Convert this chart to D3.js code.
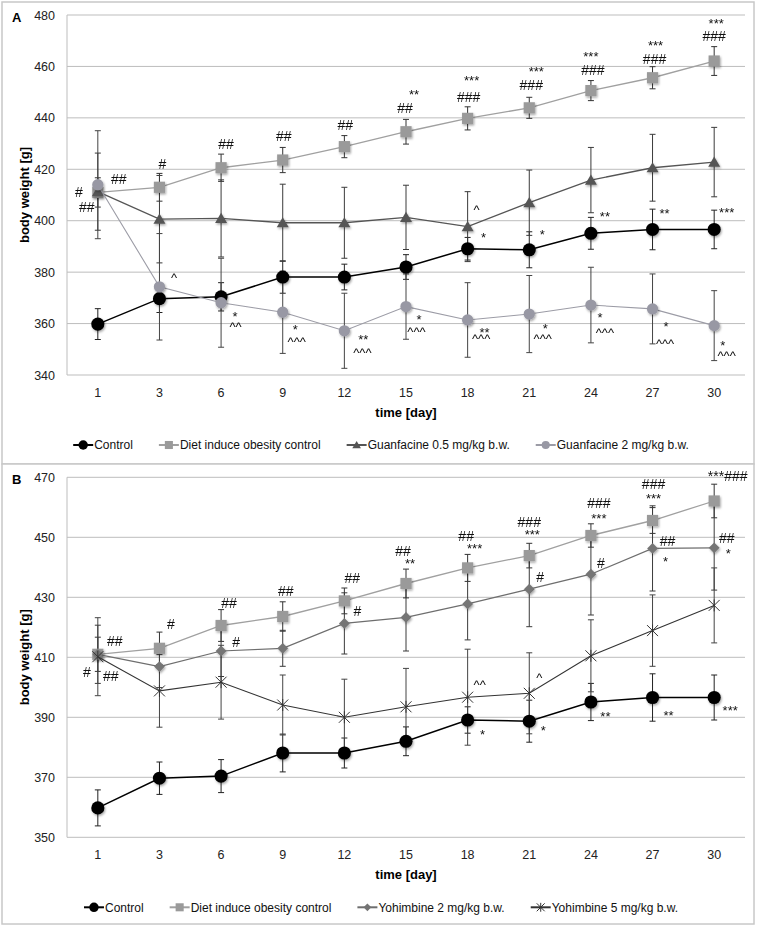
<!DOCTYPE html>
<html>
<head>
<meta charset="utf-8">
<script src="https://cdn.jsdelivr.net/npm/d3@7"></script>
<style>
  body { margin: 0; background: #fff; }
  svg { display: block; }
  text { font-family: "Liberation Sans", Arial, Helvetica, sans-serif; }
</style>
</head>
<body>
<div id="chart"></div>
<script>
// ---- data ----
var days = [1, 3, 6, 9, 12, 15, 18, 21, 24, 27, 30]

var control    = [359.8, 369.7, 370.4, 378.1, 378.1, 382.0, 389.1, 388.7, 395.1, 396.6, 396.6]
var controlErr = [6.0, 5.4, 5.5, 6.3, 5.0, 4.8, 4.4, 7.0, 6.2, 7.9, 7.5]

var dio    = [411.0, 413.0, 420.6, 423.6, 428.8, 434.6, 439.8, 443.9, 450.6, 455.6, 462.1]
var dioErr = [5.7, 5.4, 5.3, 4.9, 4.3, 4.8, 4.5, 4.1, 3.9, 4.3, 5.6]

var guan05    = [411.3, 400.6, 400.9, 399.2, 399.2, 401.3, 397.7, 407.0, 415.8, 420.6, 422.8]
var guan05Err = [15.0, 17.0, 15.0, 15.0, 13.8, 12.5, 13.6, 12.7, 12.7, 13.0, 13.5]

var guan2    = [414.0, 374.3, 368.1, 364.4, 357.2, 366.6, 361.4, 363.7, 367.2, 365.7, 359.2]
var guan2Err = [21.0, 20.7, 17.3, 16.0, 14.6, 12.7, 14.5, 15.0, 14.7, 13.6, 13.6]

var yoh2    = [411.0, 406.9, 412.1, 413.0, 421.3, 423.3, 427.8, 432.7, 437.7, 446.3, 446.5]
var yoh2Err = [9.7, 7.0, 8.5, 6.0, 10.2, 11.2, 12.0, 12.5, 13.6, 14.2, 14.1]

var yoh5    = [410.2, 398.8, 401.7, 394.1, 390.0, 393.5, 396.7, 398.0, 410.5, 418.9, 427.3]
var yoh5Err = [13.0, 12.1, 12.3, 10.0, 12.7, 12.8, 16.0, 13.5, 12.0, 11.9, 12.5]

var ticksA = [340, 360, 380, 400, 420, 440, 460, 480]
var ticksB = [350, 370, 390, 410, 430, 450, 470]

// significance labels: [day, value, text, dx]
var labelsA = [
  [1, 411.3, "#", -19], [1, 416.2, "##", 21], [1, 405.3, "##", -11],
  [3, 422, "#", 3], [6, 429.8, "##", 5], [9, 433.1, "##", 1], [12, 437.2, "##", 1],
  [15, 443.7, "##", -1], [15, 450.2, "**", 8],
  [18, 448.2, "###", 1], [18, 455.8, "***", 4],
  [21, 452.8, "###", 2], [21, 459, "***", 7],
  [24, 458.6, "###", 2], [24, 465.1, "***", 0],
  [27, 462.8, "###", 2], [27, 469.2, "***", 3],
  [30, 471.8, "###", 0], [30, 477.8, "***", 2],
  [3, 378.9, "^", 14.5],
  [6, 364, "*", 14], [6, 359.8, "^^", 14.5],
  [9, 359, "*", 12.5], [9, 354, "^^^", 14],
  [12, 354.9, "**", 19], [12, 349.7, "^^^", 18],
  [15, 362.7, "*", 13], [15, 357.9, "^^^", 10.5],
  [18, 357.7, "**", 17], [18, 355.2, "^^^", 13.5],
  [21, 359.4, "*", 16], [21, 355.2, "^^^", 13.5],
  [24, 363.3, "*", 9], [24, 357.2, "^^^", 14],
  [27, 360.1, "*", 13.5], [27, 353, "^^^", 12.5],
  [30, 352.7, "*", 8.5], [30, 348.4, "^^^", 12.5],
  [18, 405.2, "^", 9], [18, 394.7, "*", 16], [21, 395.7, "*", 13],
  [24, 402.8, "**", 14], [27, 404.1, "**", 12], [30, 404.5, "***", 12.5]
]

var labelsB = [
  [1, 415.4, "##", 17], [1, 405.2, "#", -11], [1, 403.9, "##", 13],
  [3, 421.1, "#", 11.5], [6, 428, "##", 8], [6, 415.2, "#", 15],
  [9, 432.1, "##", 3], [12, 436.3, "##", 8], [12, 425.4, "#", 13],
  [15, 445.5, "##", -3], [15, 442.1, "**", 4],
  [18, 450.4, "##", -1.5], [18, 447.1, "***", 7],
  [21, 455.2, "###", 0], [21, 451.9, "***", 3], [21, 436.7, "#", 11],
  [24, 461.3, "###", 8], [24, 457.2, "***", 8], [24, 441.5, "#", 10],
  [27, 467.8, "###", 1], [27, 463.8, "***", 1], [27, 448.8, "##", 15], [27, 442.8, "*", 13],
  [30, 470.4, "***###", 13.5], [30, 449.9, "##", 12.5], [30, 445.5, "*", 14],
  [18, 401.7, "^^", 12], [18, 385.4, "*", 15],
  [21, 404.1, "^", 10], [21, 386.5, "*", 14],
  [24, 391.1, "**", 14.5], [27, 391.5, "**", 16], [30, 393.2, "***", 16]
]

var width = 760, height = 926

var svg = d3.select("#chart").append("svg")
    .attr("width", width)
    .attr("height", height)

// soft marker shadow like the spreadsheet export
svg.append("defs").append("filter")
    .attr("id", "shadow")
    .attr("x", "-50%").attr("y", "-50%").attr("width", "200%").attr("height", "200%")
    .append("feDropShadow")
    .attr("dx", 1).attr("dy", 1.5).attr("stdDeviation", 1.1)
    .attr("flood-color", "#000").attr("flood-opacity", 0.35)

function markerPath(type, k) {
    k = k || 1
    if (type == "circle") return d3.symbol(d3.symbolCircle, 135 * k * k)()
    if (type == "dot") return d3.symbol(d3.symbolCircle, 100 * k * k)()
    if (type == "square") { var s = 5.6 * k; return "M" + -s + "," + -s + "H" + s + "V" + s + "H" + -s + "Z" }
    if (type == "triangle") return "M0," + (-5.6 * k) + "L" + (6 * k) + "," + (4.6 * k) + "L" + (-6 * k) + "," + (4.6 * k) + "Z"
    if (type == "diamond") { var d = 5.4 * k; return "M0," + -d + "L" + d + ",0L0," + d + "L" + -d + ",0Z" }
    if (type == "star") {
        var a = 5.5 * k
        return "M" + -a + "," + -a + "L" + a + "," + a + "M" + a + "," + -a + "L" + -a + "," + a + "M0," + (-a - 0.5) + "L0," + (a + 0.5)
    }
}

function drawMarker(g, type, color, k) {
    var p = g.append("path").attr("d", markerPath(type, k))
    if (type == "star") p.attr("fill", "none").attr("stroke", color).attr("stroke-width", 1)
    else p.attr("fill", color)
    return p
}

function labelShift(t) {
    // baseline offset so the visible glyph centre lands on the value
    if (t.indexOf("#") >= 0) return 4.9
    if (t.indexOf("*") >= 0) return 7.4
    return 6.7
}

function drawPanel(cfg) {
    var g = svg.append("g")

    // panel frame
    g.append("rect")
        .attr("x", 2).attr("y", cfg.boxTop)
        .attr("width", 752).attr("height", cfg.boxBottom - cfg.boxTop)
        .attr("fill", "#fff").attr("stroke", "#c8c8c8").attr("stroke-width", 1.5)

    var x = d3.scaleBand().domain(days).range([67, 745])
    var y = d3.scaleLinear().domain(cfg.domain).range([cfg.bottom, cfg.top])
    var cx = function(d) { return x(d) + x.bandwidth() / 2 }

    // gridlines
    g.selectAll(".grid").data(cfg.ticks).enter().append("line")
        .attr("x1", 67).attr("x2", 745)
        .attr("y1", function(d) { return y(d) }).attr("y2", function(d) { return y(d) })
        .attr("stroke", "#bdbdbd").attr("stroke-width", 1)
    g.append("line")
        .attr("x1", 67).attr("x2", 67).attr("y1", cfg.top).attr("y2", cfg.bottom)
        .attr("stroke", "#bdbdbd").attr("stroke-width", 1)

    // y tick labels
    g.selectAll(".ytick").data(cfg.ticks).enter().append("text")
        .attr("x", 55).attr("y", function(d) { return y(d) })
        .attr("dy", "0.36em")
        .attr("text-anchor", "end")
        .style("font-size", "12.5px").style("fill", "#222")
        .text(function(d) { return d })

    // x tick labels
    g.selectAll(".xtick").data(days).enter().append("text")
        .attr("x", cx).attr("y", cfg.bottom + 22)
        .attr("text-anchor", "middle")
        .style("font-size", "12.5px").style("fill", "#222")
        .text(function(d) { return d })

    g.append("text")
        .attr("x", 406).attr("y", cfg.bottom + 41.5)
        .attr("text-anchor", "middle")
        .style("font-size", "13px").style("font-weight", "bold")
        .text("time [day]")

    g.append("text")
        .attr("transform", "translate(29," + ((cfg.top + cfg.bottom) / 2) + ") rotate(-90)")
        .attr("text-anchor", "middle")
        .style("font-size", "13px").style("font-weight", "bold")
        .text("body weight [g]")

    g.append("text")
        .attr("x", 12).attr("y", cfg.top + 7)
        .style("font-size", "13px").style("font-weight", "bold")
        .text(cfg.letter)

    // error bars
    cfg.series.forEach(function(s) {
        var eb = g.append("g")
        s.values.forEach(function(v, i) {
            var px = cx(days[i]), e = s.err[i]
            eb.append("line").attr("x1", px).attr("x2", px)
                .attr("y1", y(v + e)).attr("y2", y(v - e))
            ;[v + e, v - e].forEach(function(t) {
                eb.append("line").attr("x1", px - 3).attr("x2", px + 3)
                    .attr("y1", y(t)).attr("y2", y(t))
            })
        })
        eb.attr("stroke", s.errColor).attr("stroke-width", 1)
    })

    // lines + markers
    var line = d3.line().x(function(d, i) { return cx(days[i]) }).y(function(d) { return y(d) })
    cfg.series.forEach(function(s) {
        g.append("path").datum(s.values)
            .attr("d", line)
            .attr("fill", "none").attr("stroke", s.lineColor).attr("stroke-width", s.lineWidth)
        var mg = g.append("g").attr("filter", s.marker == "star" ? null : "url(#shadow)")
        s.values.forEach(function(v, i) {
            drawMarker(mg, s.marker, s.color, 1)
                .attr("transform", "translate(" + cx(days[i]) + "," + y(v) + ")")
        })
    })

    // significance labels; labels of the same day that sit close together
    // go into one text element as stacked tspans
    var placed = []
    cfg.labels.forEach(function(l) {
        var lx = cx(l[0]) + l[3]
        var lyy = y(l[1]) + labelShift(l[2])
        var size = l[2].indexOf("#") >= 0 ? 14 : 13
        var host = null
        placed.forEach(function(p) {
            if (p.day == l[0] && Math.abs(p.y - lyy) < 14) host = p
        })
        if (!host) {
            host = { day: l[0], y: lyy, el: g.append("text").attr("text-anchor", "middle").style("fill", "#111") }
            placed.push(host)
        }
        host.el.append("tspan")
            .attr("x", lx).attr("y", lyy)
            .style("font-size", size + "px")
            .text(l[2])
    })

    // legend
    var ly = cfg.bottom + 70
    var lg = g.append("g")
    var xpos = 0
    cfg.series.forEach(function(s) {
        var item = lg.append("g").attr("transform", "translate(" + xpos + ",0)")
        item.append("line").attr("x1", 0).attr("x2", 20).attr("y1", ly).attr("y2", ly)
            .attr("stroke", s.lineColor).attr("stroke-width", 2)
        drawMarker(item, s.marker, s.color, 0.72).attr("transform", "translate(10," + ly + ")")
        var t = item.append("text").attr("x", 21).attr("y", ly).attr("dy", "0.36em")
            .style("font-size", "12px").style("fill", "#111")
            .text(s.name)
        xpos += 21 + t.node().getComputedTextLength() + 26
    })
    var total = xpos - 26
    lg.attr("transform", "translate(" + (381 - total / 2) + ",0)")
}

drawPanel({
    letter: "A",
    boxTop: 2, boxBottom: 464,
    top: 15, bottom: 375,
    domain: [340, 480], ticks: ticksA,
    labels: labelsA,
    series: [
        { name: "Control", values: control, err: controlErr, marker: "circle", color: "#000", lineColor: "#000", lineWidth: 1.5, errColor: "#222" },
        { name: "Diet induce obesity control", values: dio, err: dioErr, marker: "square", color: "#9a9a9a", lineColor: "#a0a0a0", lineWidth: 1.3, errColor: "#333" },
        { name: "Guanfacine 0.5 mg/kg b.w.", values: guan05, err: guan05Err, marker: "triangle", color: "#555", lineColor: "#555", lineWidth: 1.3, errColor: "#3a3a3a" },
        { name: "Guanfacine 2 mg/kg b.w.", values: guan2, err: guan2Err, marker: "dot", color: "#9898a4", lineColor: "#9c9ca6", lineWidth: 1.1, errColor: "#444" }
    ]
})

drawPanel({
    letter: "B",
    boxTop: 464, boxBottom: 924,
    top: 477.3, bottom: 837.3,
    domain: [350, 470], ticks: ticksB,
    labels: labelsB,
    series: [
        { name: "Control", values: control, err: controlErr, marker: "circle", color: "#000", lineColor: "#000", lineWidth: 1.5, errColor: "#222" },
        { name: "Diet induce obesity control", values: dio, err: dioErr, marker: "square", color: "#9a9a9a", lineColor: "#a0a0a0", lineWidth: 1.3, errColor: "#333" },
        { name: "Yohimbine 2 mg/kg b.w.", values: yoh2, err: yoh2Err, marker: "diamond", color: "#747474", lineColor: "#6e6e6e", lineWidth: 1.2, errColor: "#3a3a3a" },
        { name: "Yohimbine 5 mg/kg b.w.", values: yoh5, err: yoh5Err, marker: "star", color: "#333", lineColor: "#333", lineWidth: 1.1, errColor: "#444" }
    ]
})
</script>
</body>
</html>
